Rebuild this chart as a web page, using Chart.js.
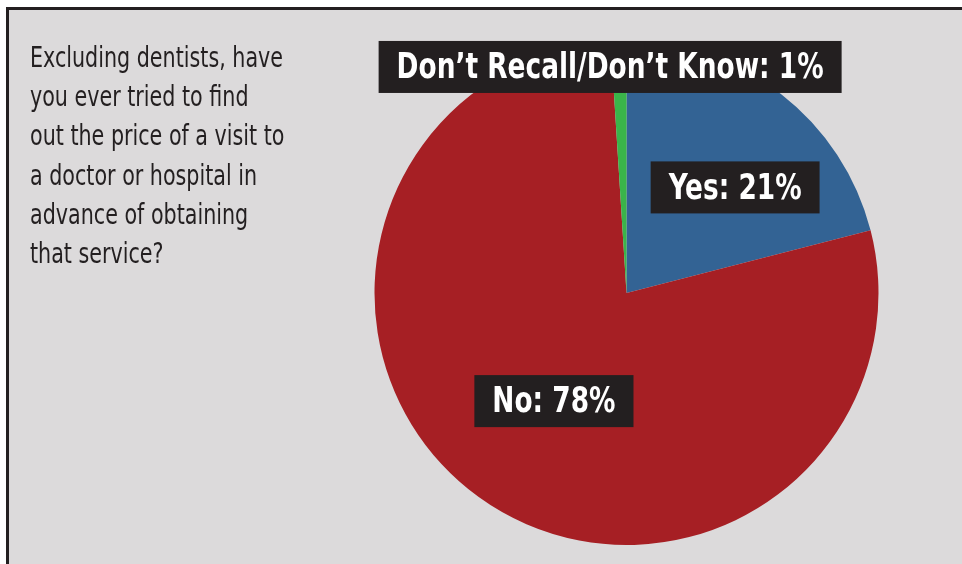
<!DOCTYPE html>
<html>
<head>
<meta charset="utf-8">
<script src="https://cdn.jsdelivr.net/npm/chart.js@4/dist/chart.umd.min.js"></script>
<style>
  html, body { margin: 0; padding: 0; background: #ffffff; }
  canvas { display: block; }
</style>
</head>
<body>
<canvas id="c" width="962" height="564"></canvas>
<script>
// ---- Data ----
const categories = ["Yes", "No", "Don\u2019t Recall/Don\u2019t Know"];
const percentages = [21, 78, 1];
const sliceLabels = ["Yes: 21%", "No: 78%", "Don\u2019t Recall/Don\u2019t Know: 1%"];
const questionLines = [
  "Excluding dentists, have",
  "you ever tried to find",
  "out the price of a visit to",
  "a doctor or hospital in",
  "advance of obtaining",
  "that service?"
];

// ---- Styles ----
const sliceColors = ["#336394", "#a61f24", "#3ab44a"];
const panelColor = "#dcdadb";
const inkColor = "#231f20";
const narrowFont = "'Liberation Sans Narrow', 'DejaVu Sans Condensed', 'Liberation Sans', sans-serif";
// label box centres relative to pie centre, in units of pie radius
const labelOffsets = [[0.431, -0.419], [-0.288, 0.429], [-0.065, -0.897]];
const questionFirstLineWidth = 253; // px width of first question line (condensed face)
const longestLabelWidth = 427;      // px width of longest slice label text

const backgroundPlugin = {
  id: 'panel',
  beforeDraw(chart) {
    const ctx = chart.ctx;
    ctx.save();
    ctx.fillStyle = '#ffffff';
    ctx.fillRect(0, 0, chart.width, chart.height);
    ctx.fillStyle = panelColor;
    ctx.fillRect(6, 7, chart.width - 6, chart.height - 7);
    ctx.fillStyle = inkColor;
    ctx.fillRect(6, 7, chart.width - 6, 3);
    ctx.fillRect(6, 7, 3, chart.height - 7);
    // question text
    ctx.fillStyle = inkColor;
    ctx.font = "29px " + narrowFont;
    ctx.textBaseline = 'alphabetic';
    ctx.textAlign = 'left';
    const f = questionFirstLineWidth / ctx.measureText(questionLines[0]).width;
    questionLines.forEach((line, i) => {
      ctx.save();
      ctx.translate(30, 67 + i * 39.2);
      ctx.scale(f, 1);
      ctx.fillText(line, 0, 0);
      ctx.restore();
    });
    ctx.restore();
  }
};

const labelPlugin = {
  id: 'sliceLabels',
  afterDatasetsDraw(chart) {
    const ctx = chart.ctx;
    const meta = chart.getDatasetMeta(0);
    const arc0 = meta.data[0];
    const cx = arc0.x, cy = arc0.y, r = arc0.outerRadius;
    ctx.save();
    ctx.font = "bold 35px " + narrowFont;
    ctx.textAlign = 'center';
    ctx.textBaseline = 'middle';
    const f = longestLabelWidth / ctx.measureText(sliceLabels[2]).width;
    sliceLabels.forEach((txt, i) => {
      const [ox, oy] = labelOffsets[i];
      const x = cx + ox * r, y = cy + oy * r;
      const w = ctx.measureText(txt).width * f + 36;
      const h = 52;
      ctx.fillStyle = inkColor;
      ctx.fillRect(x - w / 2, y - h / 2, w, h);
      ctx.save();
      ctx.translate(x, y + 2);
      ctx.scale(f, 1);
      ctx.fillStyle = '#ffffff';
      ctx.fillText(txt, 0, 0);
      ctx.restore();
    });
    ctx.restore();
  }
};

new Chart(document.getElementById('c'), {
  type: 'pie',
  data: {
    labels: categories,
    datasets: [{
      data: percentages,
      backgroundColor: sliceColors,
      borderWidth: 0
    }]
  },
  options: {
    responsive: false,
    animation: false,
    layout: { padding: { left: 374, right: 83, top: 41, bottom: 19 } },
    plugins: {
      legend: { display: false },
      tooltip: { enabled: false },
      title: { display: false }
    }
  },
  plugins: [backgroundPlugin, labelPlugin]
});
</script>
</body>
</html>
